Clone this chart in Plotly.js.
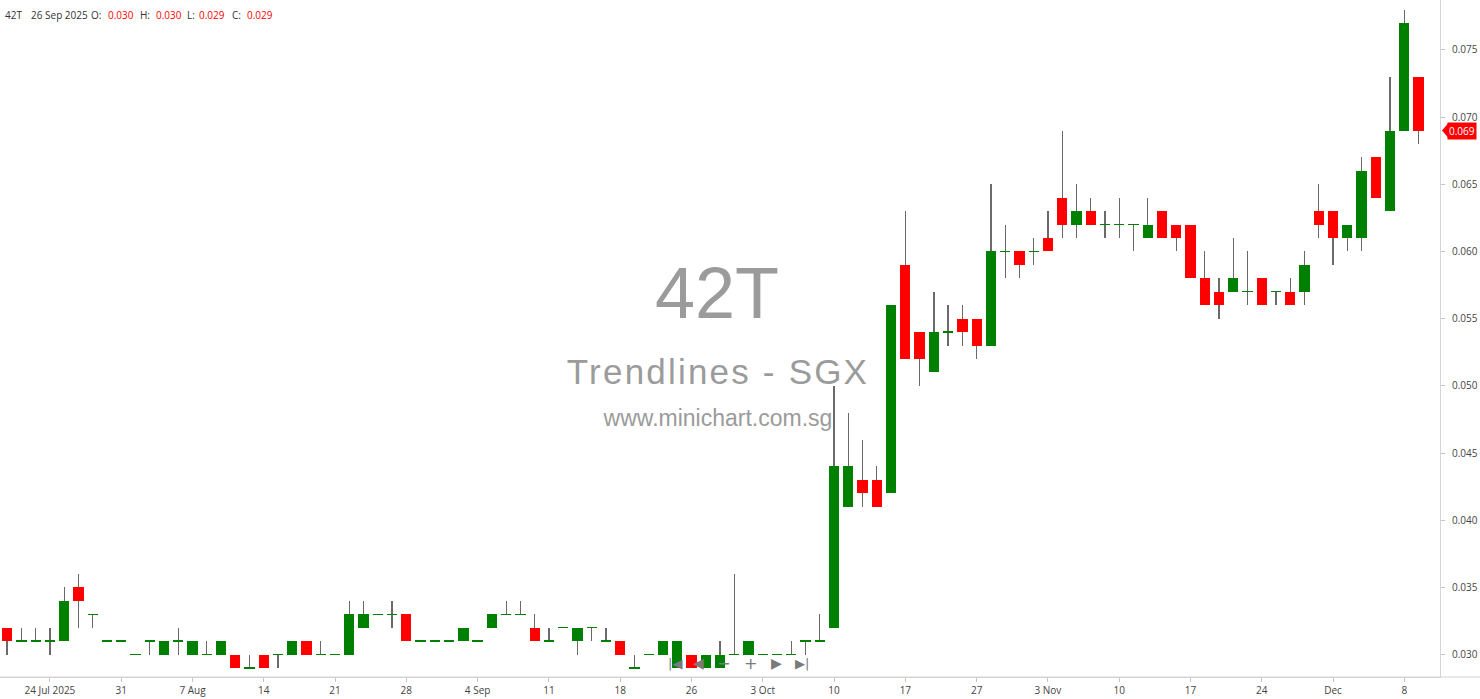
<!DOCTYPE html>
<html>
<head>
<meta charset="utf-8">
<script src="https://cdn.plot.ly/plotly-3.0.1.min.js"></script>
<style>
  html, body { margin: 0; padding: 0; background: #ffffff; }
  #chart { width: 1480px; height: 699px; }
</style>
</head>
<body>
<div id="chart"></div>
<script>
// ---- Data (42T Trendlines - SGX, daily) ----
const dates = [
  '2025-07-21','2025-07-22','2025-07-23','2025-07-24','2025-07-25','2025-07-28','2025-07-29','2025-07-30','2025-07-31',
  '2025-08-01','2025-08-04','2025-08-05','2025-08-06','2025-08-07','2025-08-08','2025-08-11','2025-08-12','2025-08-13','2025-08-14','2025-08-15',
  '2025-08-18','2025-08-19','2025-08-20','2025-08-21','2025-08-22','2025-08-25','2025-08-26','2025-08-27','2025-08-28','2025-08-29',
  '2025-09-01','2025-09-02','2025-09-03','2025-09-04','2025-09-05','2025-09-08','2025-09-09','2025-09-10','2025-09-11','2025-09-12',
  '2025-09-15','2025-09-16','2025-09-17','2025-09-18','2025-09-19','2025-09-22','2025-09-23','2025-09-25','2025-09-26','2025-09-29','2025-09-30',
  '2025-10-01','2025-10-02','2025-10-03','2025-10-06','2025-10-07','2025-10-08','2025-10-09','2025-10-10','2025-10-13','2025-10-14',
  '2025-10-15','2025-10-16','2025-10-17','2025-10-21','2025-10-22','2025-10-23','2025-10-24','2025-10-27','2025-10-28','2025-10-29',
  '2025-10-30','2025-10-31','2025-11-03','2025-11-04','2025-11-05','2025-11-06','2025-11-07','2025-11-10','2025-11-11','2025-11-12',
  '2025-11-13','2025-11-14','2025-11-17','2025-11-18','2025-11-19','2025-11-20','2025-11-21','2025-11-24','2025-11-25','2025-11-26',
  '2025-11-27','2025-11-28','2025-12-01','2025-12-02','2025-12-03','2025-12-04','2025-12-05','2025-12-08','2025-12-09'
];
const openP = [
  0.032,0.031,0.031,0.031,0.031,0.035,0.033,0.031,0.031,0.030,
  0.031,0.030,0.031,0.030,0.030,0.030,0.030,0.029,0.030,0.030,
  0.030,0.031,0.030,0.030,0.030,0.032,0.033,0.033,0.033,0.031,
  0.031,0.031,0.031,0.031,0.032,0.033,0.033,0.032,0.031,0.032,
  0.031,0.032,0.031,0.031,0.029,0.030,0.030,0.029,0.030,0.029,
  0.029,0.030,0.030,0.030,0.030,0.030,0.031,0.031,0.032,0.041,
  0.043,0.043,0.042,0.059,0.054,0.051,0.054,0.055,0.055,0.053,
  0.060,0.060,0.060,0.061,0.064,0.062,0.063,0.062,0.062,0.062,
  0.061,0.063,0.062,0.062,0.058,0.057,0.057,0.057,0.058,0.057,
  0.057,0.057,0.063,0.063,0.061,0.061,0.067,0.063,0.069,0.073
];
const highP = [
  0.032,0.032,0.032,0.032,0.035,0.036,0.033,0.031,0.031,0.030,
  0.031,0.031,0.032,0.031,0.031,0.031,0.030,0.030,0.030,0.030,
  0.031,0.031,0.031,0.030,0.034,0.034,0.033,0.034,0.033,0.031,
  0.031,0.031,0.032,0.031,0.033,0.034,0.034,0.033,0.032,0.032,
  0.032,0.032,0.032,0.031,0.030,0.030,0.031,0.031,0.030,0.030,
  0.031,0.036,0.031,0.030,0.030,0.031,0.031,0.033,0.050,0.048,
  0.046,0.044,0.056,0.063,0.054,0.057,0.056,0.056,0.055,0.065,
  0.062,0.060,0.061,0.063,0.069,0.065,0.064,0.063,0.064,0.062,
  0.064,0.063,0.062,0.062,0.060,0.058,0.061,0.060,0.058,0.057,
  0.058,0.060,0.065,0.063,0.062,0.067,0.067,0.073,0.078,0.073
];
const lowP = [
  0.030,0.031,0.031,0.030,0.031,0.032,0.032,0.031,0.031,0.030,
  0.030,0.030,0.030,0.030,0.030,0.030,0.029,0.029,0.029,0.029,
  0.030,0.030,0.030,0.030,0.030,0.032,0.033,0.032,0.031,0.031,
  0.031,0.031,0.031,0.031,0.032,0.033,0.033,0.031,0.031,0.032,
  0.030,0.031,0.031,0.030,0.029,0.030,0.030,0.029,0.029,0.029,
  0.029,0.030,0.030,0.030,0.030,0.030,0.030,0.031,0.032,0.041,
  0.041,0.041,0.042,0.052,0.050,0.051,0.053,0.053,0.052,0.053,
  0.058,0.058,0.059,0.060,0.061,0.061,0.062,0.061,0.061,0.060,
  0.061,0.061,0.060,0.058,0.056,0.055,0.057,0.056,0.056,0.056,
  0.056,0.056,0.061,0.059,0.060,0.060,0.064,0.063,0.069,0.068
];
const closeP = [
  0.031,0.031,0.031,0.031,0.034,0.034,0.033,0.031,0.031,0.030,
  0.031,0.031,0.031,0.031,0.030,0.031,0.029,0.029,0.029,0.030,
  0.031,0.030,0.030,0.030,0.033,0.033,0.033,0.033,0.031,0.031,
  0.031,0.031,0.032,0.031,0.033,0.033,0.033,0.031,0.031,0.032,
  0.032,0.032,0.031,0.030,0.029,0.030,0.031,0.031,0.029,0.030,
  0.030,0.030,0.031,0.030,0.030,0.030,0.031,0.031,0.044,0.044,
  0.042,0.041,0.056,0.052,0.052,0.054,0.054,0.054,0.053,0.060,
  0.060,0.059,0.060,0.060,0.062,0.063,0.062,0.062,0.062,0.062,
  0.062,0.061,0.061,0.058,0.056,0.056,0.058,0.057,0.056,0.057,
  0.056,0.059,0.062,0.061,0.062,0.066,0.064,0.069,0.077,0.069
];
const tickDates = [
  '2025-07-24','2025-07-31','2025-08-07','2025-08-14','2025-08-21','2025-08-28','2025-09-04','2025-09-11','2025-09-18','2025-09-26',
  '2025-10-03','2025-10-10','2025-10-17','2025-10-27','2025-11-03','2025-11-10','2025-11-17','2025-11-24','2025-12-01','2025-12-08'
];
const tickLabels = [
  '24 Jul 2025','31','7 Aug','14','21','28','4 Sep','11','18','26',
  '3 Oct','10','17','27','3 Nov','10','17','24','Dec','8'
];
const symbol = '42T';
const companyName = 'Trendlines - SGX';
const siteName = 'www.minichart.com.sg';
const headerDate = '2025-09-26';

// ---- Styling ----
const UP = '#008000', DOWN = '#ff0000', WICK = '#6a6a6a';
const TXT_FONT = 'Open Sans, Liberation Sans, sans-serif';

// ---- Derived marks ----
const DOJI = 0.0001;
const bodyBase = [], bodyLen = [], bodyCol = [], wickBase = [], wickLen = [];
for (let i = 0; i < dates.length; i++) {
  const o = openP[i], c = closeP[i];
  const lo = Math.min(o, c), hi = Math.max(o, c);
  if (hi - lo < 1e-9) { bodyBase.push(lo - DOJI / 2); bodyLen.push(DOJI); }
  else { bodyBase.push(lo); bodyLen.push(hi - lo); }
  bodyCol.push(c < o ? DOWN : UP);
  wickBase.push(lowP[i]);
  wickLen.push(Math.max(highP[i] - lowP[i], 0));
}

const wicks = {
  type: 'bar', x: dates, y: wickLen, base: wickBase,
  width: 0.09, marker: { color: WICK, line: { width: 0 } },
  hoverinfo: 'skip', showlegend: false
};
const bodies = {
  type: 'bar', x: dates, y: bodyLen, base: bodyBase,
  width: 0.72, marker: { color: bodyCol, line: { width: 0 } },
  hoverinfo: 'skip', showlegend: false
};

// header annotations
const hi = dates.indexOf(headerDate);
const monthNames = ['Jan','Feb','Mar','Apr','May','Jun','Jul','Aug','Sep','Oct','Nov','Dec'];
const hd = headerDate.split('-');
const headerDateText = parseInt(hd[2], 10) + ' ' + monthNames[parseInt(hd[1], 10) - 1] + ' ' + hd[0];
const PLOT_W = 1440, PLOT_H = 677;
function px(xp) { return xp / PLOT_W; }
function py(yp) { return 1 - yp / PLOT_H; }
const headerParts = [
  [symbol, 3, '#333'], [headerDateText, 29, '#333'],
  ['O:', 89, '#333'], [openP[hi].toFixed(3), 106, DOWN],
  ['H:', 138, '#333'], [highP[hi].toFixed(3), 154, DOWN],
  ['L:', 185, '#333'], [lowP[hi].toFixed(3), 197, DOWN],
  ['C:', 230, '#333'], [closeP[hi].toFixed(3), 245, DOWN]
];
const annotations = headerParts.map(p => ({
  xref: 'paper', yref: 'paper', x: px(p[1]), y: py(15), xanchor: 'left', yanchor: 'middle',
  text: p[0], showarrow: false, font: { family: TXT_FONT, size: 10, color: p[2] }
}));

// navigation glyphs
const navGlyphs = [['|◀', 675, 13], ['◀', 698, 14], ['−', 723, 16], ['+', 750, 16], ['▶', 776, 14], ['▶|', 802, 13]];
navGlyphs.forEach(g => annotations.push({
  xref: 'paper', yref: 'paper', x: px(g[1]), y: py(663), xanchor: 'center', yanchor: 'middle',
  text: g[0], showarrow: false, font: { family: 'DejaVu Sans', size: g[2], color: '#7a7a7a' }
}));

// last price tag
const lastClose = closeP[closeP.length - 1];
annotations.push({
  xref: 'paper', yref: 'y', x: px(1447), y: lastClose, xanchor: 'left', yanchor: 'middle',
  text: lastClose.toFixed(3), showarrow: false, bgcolor: DOWN, borderpad: 1,
  font: { family: TXT_FONT, size: 10, color: '#ffffff' }
});

const shapes = [
  // watermark (below the candles)
  { type: 'rect', xref: 'paper', yref: 'paper', x0: px(517), x1: px(917), y0: py(323), y1: py(248),
    layer: 'below', line: { width: 0 }, fillcolor: 'rgba(0,0,0,0)',
    label: { text: symbol, textposition: 'middle center', font: { family: 'Liberation Sans', size: 72, color: '#9b9b9b' } } },
  { type: 'rect', xref: 'paper', yref: 'paper', x0: px(468), x1: px(968), y0: py(390), y1: py(346),
    layer: 'below', line: { width: 0 }, fillcolor: 'rgba(0,0,0,0)',
    label: { text: companyName, textposition: 'middle center', font: { family: 'Liberation Sans', size: 35, color: '#9b9b9b' } } },
  { type: 'rect', xref: 'paper', yref: 'paper', x0: px(518), x1: px(918), y0: py(430), y1: py(402),
    layer: 'below', line: { width: 0 }, fillcolor: 'rgba(0,0,0,0)',
    label: { text: siteName, textposition: 'middle center', font: { family: 'Liberation Sans', size: 23, color: '#9b9b9b' } } },
  // bottom axis line extending into right margin
  { type: 'line', xref: 'paper', yref: 'paper', x0: 0, x1: 1480 / PLOT_W, y0: 0, y1: 0,
    line: { color: '#d4d4d4', width: 1 } },
  // arrow of last price tag
  { type: 'path', xref: 'paper', yref: 'y', xsizemode: 'pixel', ysizemode: 'pixel',
    xanchor: px(1440), yanchor: lastClose,
    path: 'M 2 0 L 8 7 L 8 -7 Z', fillcolor: DOWN, line: { width: 0 } }
];

const layout = {
  width: 1480, height: 699,
  margin: { l: 0, r: 40, t: 0, b: 22, pad: 0 },
  paper_bgcolor: '#ffffff', plot_bgcolor: '#ffffff',
  barmode: 'overlay', bargap: 0, showlegend: false,
  xaxis: {
    type: 'category', categoryorder: 'array', categoryarray: dates,
    range: [-0.5, dates.length + 0.5],
    tickmode: 'array', tickvals: tickDates, ticktext: tickLabels,
    ticks: 'outside', ticklen: 4, tickcolor: '#c4c4c4', tickwidth: 1,
    showline: true, linecolor: '#d4d4d4', linewidth: 1,
    showgrid: false, zeroline: false,
    tickfont: { family: TXT_FONT, size: 10, color: '#444' },
    fixedrange: true
  },
  yaxis: {
    side: 'right', range: [0.028326, 0.07872],
    tickmode: 'linear', tick0: 0.030, dtick: 0.005, tickformat: '.3f',
    ticks: 'outside', ticklen: 4, tickcolor: '#c4c4c4', tickwidth: 1,
    ticklabelstandoff: 5,
    showline: true, linecolor: '#d4d4d4', linewidth: 1,
    showgrid: false, zeroline: false,
    tickfont: { family: TXT_FONT, size: 10, color: '#444' },
    fixedrange: true
  },
  annotations: annotations,
  shapes: shapes
};

Plotly.newPlot('chart', [wicks, bodies], layout, { displayModeBar: false, staticPlot: true }).then(() => {
  document.querySelectorAll('#chart svg text').forEach(t => {
    if (t.textContent === companyName) t.style.letterSpacing = '2.2px';
  });
});
</script>
</body>
</html>
